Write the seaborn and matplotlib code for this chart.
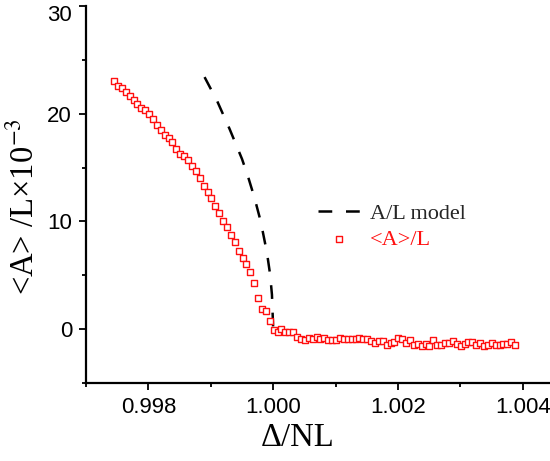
import numpy as np
import pandas as pd
import matplotlib
matplotlib.use("Agg")
import matplotlib.pyplot as plt
import matplotlib.transforms as mtransforms
import seaborn as sns
from matplotlib.ticker import MultipleLocator

# ---- data ----
x_data = [0.997450, 0.997512, 0.997575, 0.997637, 0.997700, 0.997762, 0.997824, 0.997887,
          0.997949, 0.998012, 0.998074, 0.998136, 0.998199, 0.998261, 0.998324, 0.998386,
          0.998448, 0.998511, 0.998573, 0.998636, 0.998698, 0.998760, 0.998823, 0.998885,
          0.998948, 0.999010, 0.999072, 0.999135, 0.999197, 0.999260, 0.999322, 0.999384,
          0.999447, 0.999509, 0.999572, 0.999634, 0.999696, 0.999759, 0.999821, 0.999884,
          0.999946, 1.000008, 1.000071, 1.000133, 1.000196, 1.000258, 1.000320, 1.000383,
          1.000445, 1.000508, 1.000570, 1.000632, 1.000695, 1.000757, 1.000820, 1.000882,
          1.000944, 1.001007, 1.001069, 1.001132, 1.001194, 1.001256, 1.001319, 1.001381,
          1.001444, 1.001506, 1.001568, 1.001631, 1.001693, 1.001756, 1.001818, 1.001880,
          1.001943, 1.002005, 1.002068, 1.002130, 1.002192, 1.002255, 1.002317, 1.002380,
          1.002442, 1.002504, 1.002567, 1.002629, 1.002692, 1.002754, 1.002816, 1.002879,
          1.002941, 1.003004, 1.003066, 1.003128, 1.003191, 1.003253, 1.003316, 1.003378,
          1.003440, 1.003503, 1.003565, 1.003628, 1.003690, 1.003752, 1.003815, 1.003877]
y_data = [23.07, 22.60, 22.35, 22.00, 21.60, 21.27, 20.90, 20.56, 20.37, 19.97, 19.53, 18.98,
          18.50, 18.07, 17.77, 17.33, 16.72, 16.28, 16.03, 15.69, 15.19, 14.67, 14.05, 13.33,
          12.71, 12.16, 11.47, 10.79, 10.05, 9.46, 8.74, 8.06, 7.26, 6.60, 6.05, 5.27, 4.25,
          2.86, 1.83, 1.64, 0.71, -0.06, -0.25, -0.03, -0.22, -0.22, -0.28,
          -0.71, -0.96, -1.05, -0.84, -0.87, -0.74, -0.87, -0.78, -1.05, -1.05, -1.02, -0.78,
          -0.96, -0.93, -0.90, -0.90, -0.84, -0.87, -0.90, -1.09, -1.27, -1.12, -1.09, -1.49,
          -1.27, -1.15, -0.84, -0.96, -1.27, -1.05, -1.49, -1.40, -1.52, -1.36, -1.58, -1.02,
          -1.43, -1.43, -1.30, -1.27, -1.09, -1.36, -1.55, -1.36, -1.21, -1.24, -1.46, -1.30,
          -1.61, -1.46, -1.33, -1.46, -1.49, -1.40, -1.36, -1.24, -1.49]

x_model = [0.99890, 0.99900, 0.99910, 0.99920, 0.99930, 0.99940, 0.99950, 0.99960,
           0.99970, 0.99980, 0.99990, 0.99995, 0.99998, 1.00000]
y_model = [23.4, 22.3, 21.2, 19.9, 18.6, 17.2, 15.8, 14.1, 12.2, 10.0, 7.1, 5.1, 3.2, 0.0]

x_ticks = [0.998, 1.000, 1.002, 1.004]
x_ticklabels = ["0.998", "1.000", "1.002", "1.004"]
y_ticks = [0, 10, 20, 30]
label_model = "A/L model"
label_data = "<A>/L"

# ---- style ----
sns.set_theme(style="ticks")
plt.rcParams["font.family"] = ["Liberation Sans", "DejaVu Sans"]
plt.rcParams["mathtext.fontset"] = "stix"

fig = plt.figure(figsize=(5.5, 4.61), dpi=100)
ax = fig.add_axes([86/550, 1-383/461, (549-86)/550, (383-6)/461])

df_model = pd.DataFrame({"x": x_model, "y": y_model})
df_data = pd.DataFrame({"x": x_data, "y": y_data})

sns.lineplot(data=df_model, x="x", y="y", ax=ax, color="black", lw=1.8,
             label=label_model, sort=False, estimator=None)
ax.lines[0].set_dashes([5.5, 5.5])
sns.scatterplot(data=df_data, x="x", y="y", ax=ax, marker="s", s=16,
                facecolor="white", edgecolor="#ff1010", linewidth=1.0,
                label=label_data, zorder=3)

ax.set_xlim(0.997, 1.00442)
ax.set_ylim(-5, 30)
ax.set_xticks(x_ticks)
ax.set_xticklabels(x_ticklabels)
ax.set_yticks(y_ticks)
ax.xaxis.set_minor_locator(MultipleLocator(0.001))
ax.yaxis.set_minor_locator(MultipleLocator(5))

for side in ["top", "right"]:
    ax.spines[side].set_visible(False)
for side in ["left", "bottom"]:
    ax.spines[side].set_linewidth(1.6)
    ax.spines[side].set_color("black")

ax.tick_params(axis="both", which="major", direction="out", length=5, width=1.3,
               labelsize=16, pad=5, color="black", labelcolor="black")
ax.tick_params(axis="both", which="minor", direction="out", length=3, width=1.3,
               color="black")

serif = ["Liberation Serif", "DejaVu Serif"]
ax.set_xlabel("Δ/NL", fontsize=23.5, family=serif, color="black")
ax.set_ylabel("<A> /L×10$^{-3}$", fontsize=23.5, family=serif, color="black")
ax.xaxis.set_label_coords((297.5-86)/463, (383-422)/377)
ax.yaxis.set_label_coords((40-86)/463, (383-207)/377)

leg = ax.legend(frameon=False, loc="upper left", bbox_to_anchor=(318/550, 1-203/461),
                bbox_transform=fig.transFigure, borderaxespad=0, borderpad=0,
                prop={"family": serif, "size": 16}, handlelength=1.9,
                handletextpad=0.45, labelspacing=0.28)
leg.get_texts()[1].set_color("#ff1010")

# the top tick label sits slightly lower so it stays inside the figure
fig.canvas.draw()
top_tick = ax.yaxis.get_major_ticks()[-1]
top_tick.label1.set_transform(top_tick.label1.get_transform() +
                              mtransforms.ScaledTranslation(0, -6.5/100, fig.dpi_scale_trans))

fig.savefig("out.png", dpi=100)
